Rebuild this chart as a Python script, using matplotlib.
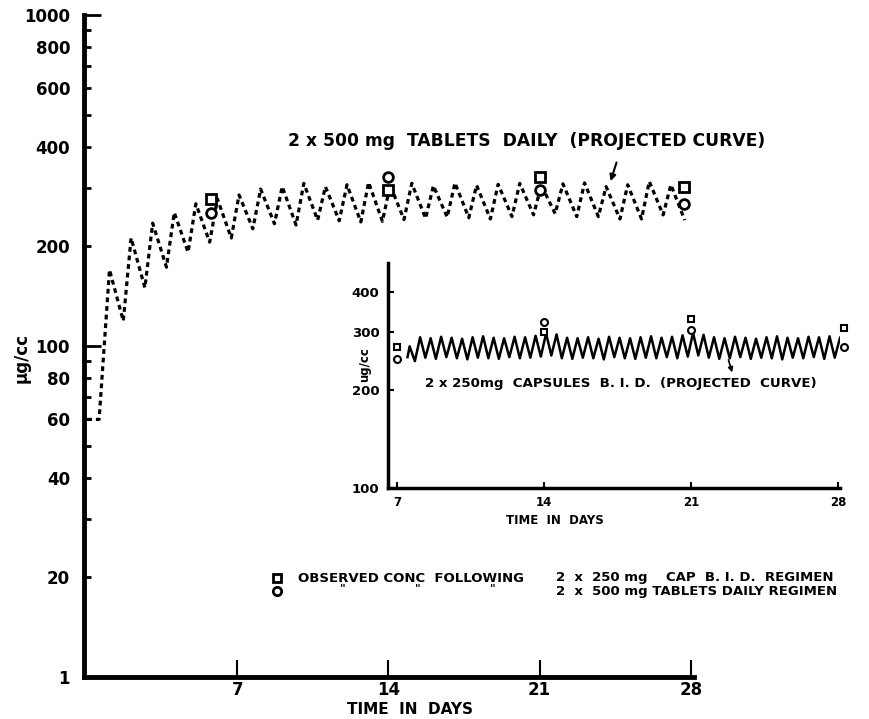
import numpy as np
import matplotlib
matplotlib.use("Agg")
from matplotlib import pyplot as plt

W, H = 869, 719

# main chart: projected curve for 2 x 500 mg tablets daily
start_days = [0.05, 0.6]
start_vals = [60, 60]
dose_days = np.arange(1, 28)
peak_vals = [170, 212, 235, 253, 269, 278, 286, 298, 303, 310, 303, 307, 312, 306,
             310, 305, 311, 306, 308, 310, 306, 309, 311, 303, 307, 314, 307]
trough_vals = [119, 150, 173, 192, 206, 212, 226, 234, 232, 240, 239, 237, 238, 241,
               243, 245, 244, 242, 246, 249, 251, 246, 246, 242, 242, 249, 240]

# observed concentrations (main)
obs_days = [5.8, 14, 21, 27.7]
obs_cap = [278, 297, 325, 303]
obs_tab = [253, 325, 297, 269]

# inset: 2 x 250 mg capsules b.i.d.
in_start_days = [7.5, 7.6, 7.85]
in_start_vals = [252, 272, 245]
in_dose_times = np.arange(8.1, 28.2, 0.5)
in_peaks = [290, 288, 291, 289, 287, 290, 292, 289, 288, 291, 290, 293, 298, 296, 289,
            288, 290, 287, 291, 289, 288, 290, 292, 289, 291, 294, 299, 295, 290, 288,
            291, 289, 287, 290, 292, 289, 288, 291, 290, 292, 289]
in_troughs = [251, 249, 252, 250, 248, 251, 250, 249, 252, 250, 251, 253, 255, 250,
              249, 251, 250, 248, 252, 250, 249, 251, 250, 252, 250, 253, 255, 251,
              249, 250, 252, 249, 251, 250, 248, 251, 250, 252, 249, 251]
in_obs_days = [7, 14, 21, 28.3]
in_obs_cap = [270, 302, 329, 310]
in_obs_tab = [248, 324, 306, 270]

y_ticks = [10, 20, 40, 60, 80, 100, 200, 400, 600, 800, 1000]
y_labels = ["1", "20", "40", "60", "80", "100", "200", "400", "600", "800", "1000"]
y_minor = [30, 50, 70, 90, 300, 500, 700, 900]
x_ticks = [7, 14, 21, 28]
in_y_ticks = [100, 200, 300, 400]

plt.rcParams['font.family'] = ['DejaVu Sans']
plt.rcParams['font.weight'] = 'bold'

fig = plt.figure(figsize=(W / 100, H / 100), dpi=100)


def box(l, t, r, b):
    return [l / W, 1 - b / H, (r - l) / W, (b - t) / H]


# build zigzag
def zigzag(t0, v0, tp, vp, tt, vt):
    t = list(t0)
    v = list(v0)
    for i in range(len(tp)):
        t.append(tp[i]); v.append(vp[i])
        if i < len(tt):
            t.append(tt[i]); v.append(vt[i])
    return t, v


ax = fig.add_axes(box(84, 15, 694, 677))
t, v = zigzag(start_days, start_vals, dose_days + 0.08, peak_vals,
              dose_days + 0.72, trough_vals)
ax.plot(t, v, color='black', lw=2.3, linestyle=(0, (1.5, 1.2)))
ax.plot(obs_days, obs_cap, 's', ms=7, mfc='white', mec='black', mew=2)
ax.plot(obs_days, obs_tab, 'o', ms=7, mfc='white', mec='black', mew=2)
ax.set_yscale('log')
ax.set_ylim(10, 1000)
ax.set_xlim(-0.1, 28.15)
ax.set_yticks(y_ticks)
ax.set_yticklabels(y_labels)
ax.set_yticks(y_minor, minor=True)
ax.set_xticks(x_ticks)
ax.set_xticklabels([str(x) for x in x_ticks])
for s in ['top', 'right']:
    ax.spines[s].set_visible(False)
for s in ['left', 'bottom']:
    ax.spines[s].set_linewidth(3.5)
ax.tick_params(axis='y', which='both', direction='in', length=5, width=2,
               labelsize=12, pad=10)
ax.tick_params(axis='x', direction='in', length=12, width=1.5,
               labelsize=12, pad=3)
for tk in ax.yaxis.get_major_ticks():
    if tk.get_loc() in (100, 1000):
        tk.tick1line.set_markersize(12)
for tk in ax.yaxis.get_minor_ticks():
    if tk.get_loc() in (50, 500):
        tk.tick1line.set_markersize(12)
ax.patch.set_alpha(0)

fig.text(22 / W, 1 - 358 / H, "µg/cc", rotation=90, fontsize=12, fontweight='bold',
         ha='center', va='center')
fig.text(410 / W, 1 - 709 / H, "TIME  IN  DAYS", fontsize=11, fontweight='bold',
         ha='center', va='center')
fig.text(288 / W, 1 - 141 / H, "2 x 500 mg  TABLETS  DAILY  (PROJECTED CURVE)",
         fontsize=12.3, fontweight='bold', ha='left', va='center')
ax.annotate("", xy=(24.25, 309), xytext=(24.6, 365),
            arrowprops=dict(arrowstyle='-|>', color='black', lw=1.5,
                            mutation_scale=9))

# legend text
ax.plot([8.85], [19.9], 's', ms=6, mfc='white', mec='black', mew=2)
ax.plot([8.85], [18.2], 'o', ms=6, mfc='white', mec='black', mew=2)
fig.text(298 / W, 1 - 578 / H, "OBSERVED CONC  FOLLOWING", fontsize=9.5,
         fontweight='bold', ha='left', va='center')
fig.text(556 / W, 1 - 578 / H, "2  x  250 mg    CAP  B. I. D.  REGIMEN", fontsize=9.5,
         fontweight='bold', ha='left', va='center')
for qx in [343, 418, 493]:
    fig.text(qx / W, 1 - 588 / H, '"', fontsize=8, fontweight='bold',
             ha='center', va='center')
fig.text(556 / W, 1 - 592 / H, "2  x  500 mg TABLETS DAILY REGIMEN", fontsize=9.5,
         fontweight='bold', ha='left', va='center')

# inset
ax2 = fig.add_axes(box(388, 263, 840, 488))
t2, v2 = zigzag(in_start_days, in_start_vals, in_dose_times, in_peaks,
                in_dose_times[:-1] + 0.25, in_troughs)
ax2.plot(t2, v2, color='black', lw=1.8)
ax2.plot(in_obs_days, in_obs_cap, 's', ms=5, mfc='white', mec='black', mew=1.5,
         clip_on=False)
ax2.plot(in_obs_days, in_obs_tab, 'o', ms=5, mfc='white', mec='black', mew=1.5,
         clip_on=False)
ax2.set_yscale('log')
ax2.set_ylim(100, 490)
ax2.set_xlim(6.57, 28.1)
ax2.set_yticks(in_y_ticks)
ax2.set_yticklabels([str(y) for y in in_y_ticks])
ax2.yaxis.set_minor_locator(matplotlib.ticker.NullLocator())
ax2.set_xticks(x_ticks)
ax2.set_xticklabels([str(x) for x in x_ticks])
for s in ['top', 'right']:
    ax2.spines[s].set_visible(False)
for s in ['left', 'bottom']:
    ax2.spines[s].set_linewidth(2.5)
ax2.tick_params(axis='y', direction='in', length=4, width=1.5, labelsize=9.5, pad=6)
ax2.tick_params(axis='x', direction='in', length=4, width=1.5, labelsize=8.5, pad=6)
ax2.patch.set_alpha(0)
fig.text(555 / W, 1 - 521 / H, "TIME  IN  DAYS", fontsize=8.5, fontweight='bold',
         ha='center', va='center')
fig.text(365 / W, 1 - 365 / H, "ug/cc", rotation=90, fontsize=8.5, fontweight='bold',
         ha='center', va='center')
fig.text(425 / W, 1 - 384 / H, "2 x 250mg  CAPSULES  B. I. D.  (PROJECTED  CURVE)",
         fontsize=9.6, fontweight='bold', ha='left', va='center')
ax2.annotate("", xy=(23.0, 222), xytext=(22.75, 252),
             arrowprops=dict(arrowstyle='-|>', color='black', lw=1.2,
                             mutation_scale=7))

fig.savefig('out.png', dpi=100)
